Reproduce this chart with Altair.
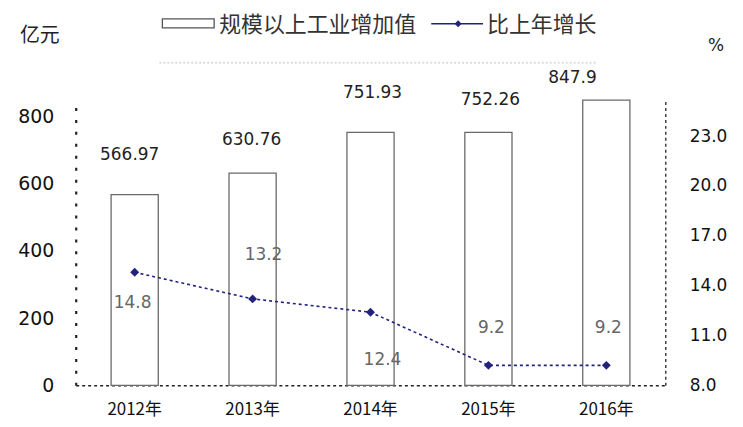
import altair as alt
import pandas as pd

# ---- data ----
years = ["2012年", "2013年", "2014年", "2015年", "2016年"]
values = [566.97, 630.76, 751.93, 752.26, 847.9]
value_labels = ["566.97", "630.76", "751.93", "752.26", "847.9"]
growth = [14.8, 13.2, 12.4, 9.2, 9.2]
growth_labels = ["14.8", "13.2", "12.4", "9.2", "9.2"]
left_ticks = [0, 200, 400, 600, 800]
right_ticks = [8, 11, 14, 17, 20, 23]

# ---- style (label offsets in pixels) ----
VALUE_LABEL_OFFSETS = [(-5, -40), (-1, -33), (2, -40), (2, -32), (-34, -22)]
GROWTH_LABEL_OFFSETS = [(-2, 31), (11, -44), (12, 48), (3, -38), (2, -38)]

FONT = "DejaVu Sans"
CJK = "Noto Sans CJK SC"
NAVY = "#23237e"

df = pd.DataFrame({
    "year": years,
    "value": values,
    "vlabel": value_labels,
    "growth": growth,
    "glabel": growth_labels,
})

X = alt.X(
    "year:N",
    sort=years,
    title=None,
    scale=alt.Scale(paddingInner=0.6, paddingOuter=0.3),
    axis=alt.Axis(
        labelAngle=0, labelFont=CJK, labelFontSize=17, labelColor="#111",
        labelPadding=16, ticks=False, tickSize=0, domainColor="#222",
        domainDash=[3, 3], domainWidth=1.6, grid=False,
    ),
)

YL = alt.Y(
    "value:Q",
    title=None,
    scale=alt.Scale(domain=[0, 850], nice=False, zero=True),
    axis=alt.Axis(
        values=left_ticks, format="d", labelFont=FONT, labelFontSize=19,
        labelColor="#111", labelPadding=22, ticks=False, tickSize=0,
        domainColor="#222", domainDash=[3, 9], domainWidth=2.2, grid=False,
    ),
)

YR = alt.Y(
    "growth:Q",
    title=None,
    scale=alt.Scale(domain=[8, 25.2], nice=False, zero=False),
    axis=alt.Axis(
        orient="right", values=right_ticks, format=".1f", labelFont=FONT,
        labelFontSize=17, labelColor="#111", labelPadding=24, ticks=False,
        tickSize=0, domainColor="#333", domainDash=[3, 3], domainWidth=1.4,
        grid=False,
    ),
)

base = alt.Chart(df)

bars = base.mark_bar(fill="white", stroke="#6a6a6a", strokeWidth=1.3).encode(x=X, y=YL)

value_text_layers = []
for yr, (dx, dy) in zip(years, VALUE_LABEL_OFFSETS):
    value_text_layers.append(
        base.transform_filter(alt.datum.year == yr)
        .mark_text(font=FONT, fontSize=17, color="#222", dx=dx, dy=dy)
        .encode(x=X, y=YL, text="vlabel:N")
    )

left = alt.layer(bars, *value_text_layers)

line = base.mark_line(color=NAVY, strokeWidth=1.6, strokeDash=[3, 3]).encode(x=X, y=YR)
points = base.mark_point(shape="diamond", filled=True, size=80, color=NAVY, opacity=1).encode(
    x=X, y=YR)

growth_text_layers = []
for yr, (dx, dy) in zip(years, GROWTH_LABEL_OFFSETS):
    growth_text_layers.append(
        base.transform_filter(alt.datum.year == yr)
        .mark_text(font=FONT, fontSize=17, color="#666", dx=dx, dy=dy)
        .encode(x=X, y=YR, text="glabel:N")
    )

right = alt.layer(line, points, *growth_text_layers)

# ---- manual legend & unit labels (pixel positions relative to plot area) ----
one = alt.Chart(pd.DataFrame({"k": [0]}))
legend_rect = one.mark_rect(fill="white", stroke="#555", strokeWidth=1.3).encode(
    x=alt.value(87), x2=alt.value(139), y=alt.value(-81), y2=alt.value(-72))
legend_t1 = one.mark_text(font=CJK, fontSize=22, color="#333", align="left",
                          baseline="middle").encode(
    x=alt.value(144), y=alt.value(-75), text=alt.value("规模以上工业增加值"))
legend_line = one.mark_rule(color=NAVY, strokeWidth=1.5).encode(
    x=alt.value(357), x2=alt.value(409), y=alt.value(-76))
legend_pt = one.mark_point(shape="diamond", filled=True, size=50, color=NAVY, opacity=1).encode(
    x=alt.value(384), y=alt.value(-76))
legend_t2 = one.mark_text(font=CJK, fontSize=22, color="#333", align="left",
                          baseline="middle").encode(
    x=alt.value(413), y=alt.value(-75), text=alt.value("比上年增长"))
legend_band = one.mark_rule(color="#dcdcdc", strokeWidth=2, strokeDash=[2, 2]).encode(
    x=alt.value(84), x2=alt.value(524), y=alt.value(-37))
unit_left = one.mark_text(font=CJK, fontSize=20, color="#222").encode(
    x=alt.value(-36), y=alt.value(-64), text=alt.value("亿元"))
unit_right = one.mark_text(font=FONT, fontSize=17, color="#222").encode(
    x=alt.value(643), y=alt.value(-54), text=alt.value("%"))

chart = (
    alt.layer(left, right, legend_band, legend_rect, legend_t1, legend_line, legend_pt,
              legend_t2, unit_left, unit_right)
    .resolve_scale(y="independent")
    .properties(
        width=592,
        height=287,
        autosize=alt.AutoSizeParams(type="none"),
        padding={"left": 68, "top": 91, "right": 70, "bottom": 40},
        background="white",
    )
    .configure_view(stroke=None)
)

chart.save("out.html", embed_options={"renderer": "svg", "actions": False})
